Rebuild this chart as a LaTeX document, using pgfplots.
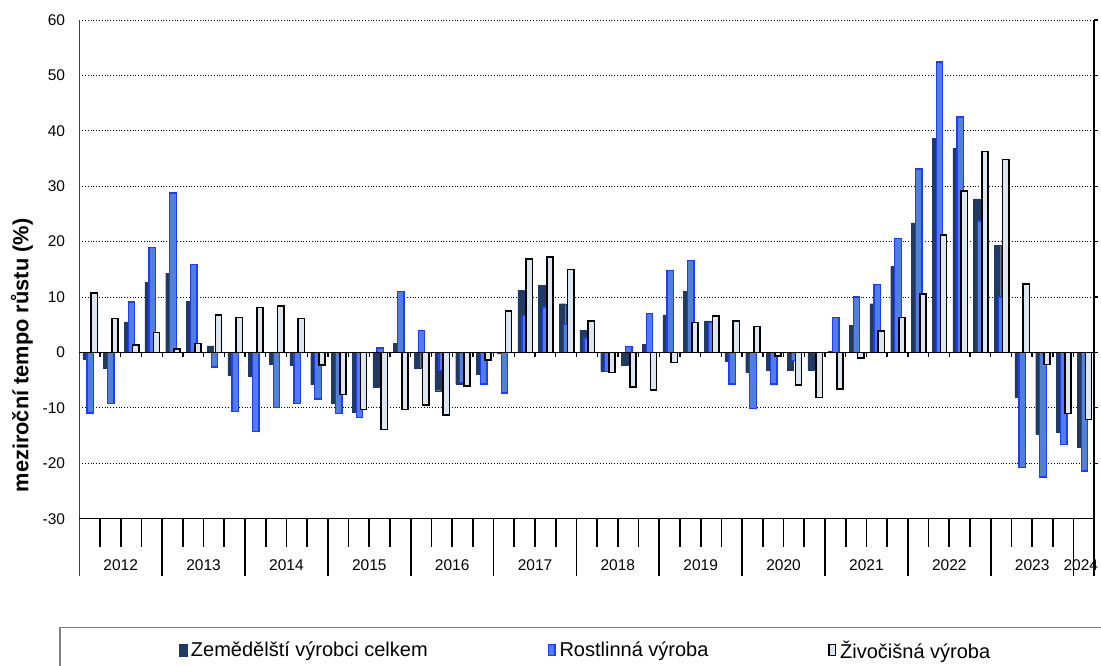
\documentclass[border=0pt]{standalone}
\usepackage{pgfplots}
\usepackage{pgfplotstable}
\pgfplotsset{compat=1.18}
\usepackage{fontspec}
\setmainfont{Liberation Sans}
\definecolor{cA}{RGB}{31,59,99}
\definecolor{cBfill}{RGB}{80,128,220}
\definecolor{cBdraw}{RGB}{30,60,255}
\definecolor{cCfill}{RGB}{221,229,239}

\pgfplotstableread{
x A B C
1 -1.2 -10.9 10.7
2 -2.9 -9.2 6.1
3 5.5 9.1 1.4
4 12.6 19.0 3.6
5 14.3 28.8 0.6
6 9.2 15.9 1.6
7 1.2 -2.6 6.8
8 -4.1 -10.7 6.3
9 -4.3 -14.3 8.1
10 -2.1 -9.9 8.4
11 -2.3 -9.2 6.1
12 -5.8 -8.4 -2.3
13 -9.2 -11.0 -7.6
14 -10.8 -11.7 -10.3
15 -6.3 0.8 -13.9
16 1.7 11.0 -10.3
17 -2.9 4.0 -9.5
18 -6.9 -3.3 -11.3
19 -5.7 -5.4 -6.1
20 -4.0 -5.7 -1.4
21 -0.1 -7.3 7.5
22 11.2 6.7 16.9
23 12.1 8.2 17.2
24 8.8 5.0 15.0
25 4.0 2.6 5.7
26 -3.3 -3.4 -3.6
27 -2.3 1.1 -6.2
28 1.5 7.0 -6.8
29 6.8 14.8 -1.8
30 11.0 16.6 5.4
31 5.7 5.4 6.6
32 -1.5 -5.7 5.7
33 -3.6 -10.1 4.7
34 -3.2 -5.7 -0.6
35 -3.2 -1.4 -5.9
36 -3.2 -0.2 -8.1
37 0.3 6.3 -6.6
38 4.9 10.0 -1.0
39 8.8 12.3 3.9
40 15.5 20.6 6.3
41 23.4 33.1 10.5
42 38.7 52.4 21.2
43 36.8 42.5 29.1
44 27.7 23.7 36.3
45 19.3 10.0 34.8
46 -8.0 -20.8 12.4
47 -14.7 -22.5 -2.2
48 -14.4 -16.6 -11.0
49 -17.1 -21.4 -12.1
}\datatable

\begin{document}
\begin{tikzpicture}
\useasboundingbox (0pt,0pt) rectangle (1101pt,-666pt);
\begin{axis}[
  at={(79.3pt,-20pt)}, anchor=north west,
  scale only axis, width=1015pt, height=498.7pt,
  xmin=0.5, xmax=49.5, ymin=-30, ymax=60,
  xtick=\empty,
  ytick={-30,-20,...,60},
  ytick style={draw=none},
  ymajorgrids,
  grid style={black, line width=0.8pt, dash pattern=on 1pt off 1.8pt},
  axis line style={draw=none},
  yticklabel style={font=\fontsize{15.5}{18}\selectfont, inner sep=0pt, xshift=-14pt},
  /pgf/number format/assume math mode=true,
  clip=false,
  legend columns=3,
  legend style={at={(0.0982,-0.2633)}, anchor=west, draw=none, fill=none,
    inner sep=0pt, outer sep=0pt, font=\fontsize{20}{24}\selectfont,
    nodes={inner sep=0pt},
    /tikz/every even column/.append style={column sep=120pt},
    /tikz/every odd column/.append style={column sep=4pt}},
]
\addlegendimage{legend image code/.code={\draw[fill=cA, draw=cA, line width=0.3pt] (0pt,-6pt) rectangle (7.7pt,6pt);}}
\addlegendentry{Zemědělští výrobci celkem}
\addlegendimage{legend image code/.code={\draw[fill=cBfill, draw=cBdraw, line width=1.3pt] (0.6pt,-5.4pt) rectangle (7.1pt,5.4pt);}}
\addlegendentry{Rostlinná výroba}
\addlegendimage{legend image code/.code={\draw[fill=cCfill, draw=black, line width=1.4pt] (0.7pt,-5.3pt) rectangle (7pt,5.3pt);}}
\addlegendentry{Živočišná výroba}

\addplot[ybar, forget plot, bar width=6.4pt, bar shift=-3.6pt, fill=cA, draw=cA, line width=0.3pt]
  table[x=x,y=A]{\datatable};
\addplot[ybar, forget plot, bar width=6.4pt, bar shift=0.5pt, fill=cBfill, draw=cBdraw, line width=1.3pt]
  table[x=x,y=B]{\datatable};
\addplot[ybar, forget plot, bar width=6.2pt, bar shift=4.6pt, fill=cCfill, draw=black, line width=1.6pt]
  table[x=x,y=C]{\datatable};

% axis frame
\draw[black!75, line width=1.5pt] (axis cs:0.5,60) -- (axis cs:0.5,-40.4);
\draw[black, line width=1.7pt] (axis cs:49.5,60) -- (axis cs:49.5,-40.4);
\draw[black, line width=1.4pt] (axis cs:0.5,-30) -- (axis cs:49.5,-30);
\draw[black, line width=1.6pt] (axis cs:0.5,0) -- (axis cs:49.5,0);
\pgfplotsinvokeforeach{-20,-10,0,10,20,30,40,50,60}{
  \draw[black, line width=1.2pt] (axis cs:49.5,#1) -- ++(4pt,0pt);
}
\pgfplotsinvokeforeach{1.5,2.5,...,48.5}{
  \draw[black, line width=1.3pt] (axis cs:#1,0) -- (axis cs:#1,-0.9);
  \draw[black, line width=1.6pt] (axis cs:#1,-30) -- (axis cs:#1,-35.05);
}
\pgfplotsinvokeforeach{4.5,8.5,...,48.5}{
  \draw[black, line width=1.6pt] (axis cs:#1,-30) -- (axis cs:#1,-40.4);
}
% year labels
\begin{scope}[every node/.style={anchor=base, font=\fontsize{15.5}{18}\selectfont, inner sep=0pt}]
\node at (axis cs:2.5,-39.4) {2012};
\node at (axis cs:6.5,-39.4) {2013};
\node at (axis cs:10.5,-39.4) {2014};
\node at (axis cs:14.5,-39.4) {2015};
\node at (axis cs:18.5,-39.4) {2016};
\node at (axis cs:22.5,-39.4) {2017};
\node at (axis cs:26.5,-39.4) {2018};
\node at (axis cs:30.5,-39.4) {2019};
\node at (axis cs:34.5,-39.4) {2020};
\node at (axis cs:38.5,-39.4) {2021};
\node at (axis cs:42.5,-39.4) {2022};
\node at (axis cs:46.5,-39.4) {2023};
\node at (axis cs:48.85,-39.4) {2024};
\end{scope}
\end{axis}
\node[rotate=90, anchor=base, font=\bfseries\fontsize{21.8}{26}\selectfont, inner sep=0pt] at (28.3pt,-355.5pt) {meziroční tempo růstu (\%)};
\draw[black!50, line width=1.3pt] (60pt,-700pt) -- (60pt,-627.7pt) -- (1120pt,-627.7pt);
\end{tikzpicture}
\end{document}
